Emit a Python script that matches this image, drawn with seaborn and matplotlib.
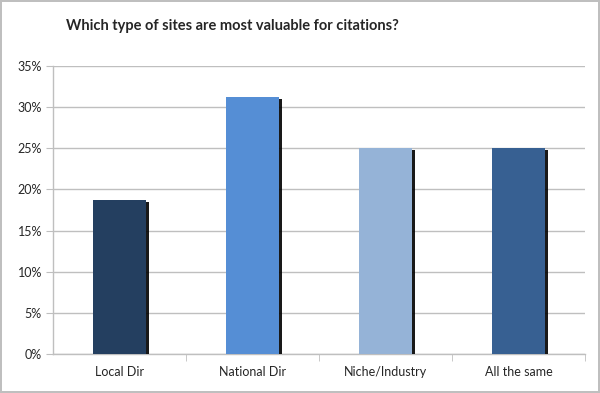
import matplotlib
matplotlib.use("Agg")
import matplotlib.pyplot as plt
import matplotlib.patheffects as pe
from matplotlib.ticker import PercentFormatter, FixedLocator
import seaborn as sns
import pandas as pd

# data
categories = ["Local Dir", "National Dir", "Niche/Industry", "All the same"]
shares = [0.1875, 0.3125, 0.25, 0.25]
bar_colors = ["#243F60", "#558ED5", "#95B3D7", "#376092"]
y_ticks = [0, 0.05, 0.10, 0.15, 0.20, 0.25, 0.30, 0.35]

df = pd.DataFrame({"site": categories, "share": shares})

sns.set_style("white")
plt.rcParams["font.family"] = ["Lato", "DejaVu Sans"]

fig = plt.figure(figsize=(6, 3.93), dpi=100)
fig.patch.set_edgecolor("#BFBFBF")
fig.patch.set_linewidth(1.5)
ax = fig.add_axes([0.0883, 0.0992, 0.8867, 0.7328])

sns.barplot(data=df, x="site", y="share", hue="site", palette=bar_colors,
            saturation=1, width=0.4, legend=False, ax=ax, zorder=3,
            linewidth=0)

for bar in ax.patches:
    bar.set_path_effects([pe.SimplePatchShadow(offset=(1.8, -1.5), shadow_rgbFace="black", alpha=0.9),
                          pe.Normal()])

ax.set_ylim(0, 0.35)
ax.set_xlim(-0.5, 3.5)
ax.yaxis.set_major_locator(FixedLocator(y_ticks))
ax.yaxis.set_major_formatter(PercentFormatter(1.0, decimals=0))
ax.yaxis.grid(True, color="#BFBFBF", linewidth=1)
ax.set_axisbelow(True)

for side in ["top", "right"]:
    ax.spines[side].set_visible(False)
for side in ["left", "bottom"]:
    ax.spines[side].set_color("#BFBFBF")
    ax.spines[side].set_linewidth(1)

ax.tick_params(axis="y", left=True, length=5, color="#BFBFBF", labelsize=9, pad=3)
ax.tick_params(axis="x", bottom=False, labelsize=9, pad=5)
ax.set_xticks([0.5, 1.5, 2.5, 3.5], minor=True)
ax.tick_params(axis="x", which="minor", bottom=True, length=5, color="#BFBFBF")

ax.set_xlabel("")
ax.set_ylabel("")

fig.text(0.387, 0.935, "Which type of sites are most valuable for citations?",
         ha="center", va="center", fontsize=10.5, fontweight="bold")

fig.savefig("out.png", dpi=100, edgecolor=fig.get_edgecolor())
